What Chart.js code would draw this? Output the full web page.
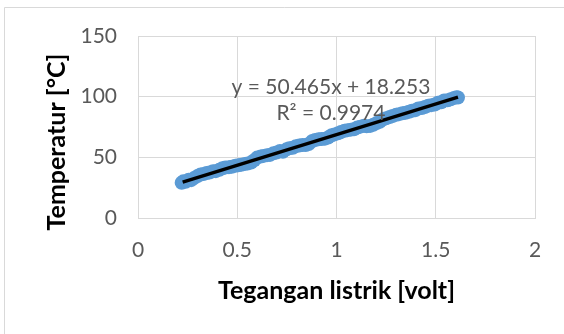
<!DOCTYPE html>
<html>
<head>
<meta charset="utf-8">
<script src="https://cdn.jsdelivr.net/npm/chart.js@4/dist/chart.umd.min.js"></script>
<style>
  html, body { margin: 0; padding: 0; background: #ffffff; }
  #wrap { width: 564px; height: 334px; }
</style>
</head>
<body>
<div id="wrap"><canvas id="c" width="564" height="334"></canvas></div>
<script>
// Measured voltage (V) and temperature (°C) readings
const voltage = [
  0.220, 0.228, 0.240, 0.255, 0.268, 0.282, 0.300, 0.315, 0.330, 0.345,
  0.360, 0.378, 0.392, 0.410, 0.425, 0.440, 0.458, 0.472, 0.490, 0.505,
  0.520, 0.538, 0.552, 0.570, 0.585, 0.600, 0.618, 0.632, 0.650, 0.665,
  0.682, 0.698, 0.715, 0.730, 0.748, 0.762, 0.780, 0.795, 0.812, 0.828,
  0.845, 0.860, 0.878, 0.892, 0.910, 0.925, 0.942, 0.958, 0.975, 0.990,
  1.008, 1.022, 1.040, 1.055, 1.072, 1.088, 1.105, 1.120, 1.138, 1.152,
  1.170, 1.185, 1.202, 1.218, 1.235, 1.250, 1.268, 1.282, 1.300, 1.315,
  1.332, 1.348, 1.365, 1.380, 1.398, 1.412, 1.430, 1.445, 1.462, 1.478,
  1.495, 1.510, 1.528, 1.542, 1.560, 1.575, 1.592, 1.605, 1.612
];
const temperature = [
  29.0, 30.2, 29.8, 31.6, 31.2, 32.9, 34.6, 35.8, 36.3, 37.0,
  37.4, 38.5, 38.6, 39.8, 41.0, 41.6, 41.9, 42.3, 43.0, 43.4,
  43.8, 44.6, 44.9, 45.8, 47.6, 49.8, 50.6, 51.2, 51.8, 52.0,
  53.4, 53.9, 55.2, 54.6, 56.6, 57.5, 57.9, 59.2, 59.8, 60.1,
  60.2, 61.0, 63.4, 64.3, 64.9, 65.1, 65.4, 66.3, 68.2, 68.9,
  69.8, 70.8, 71.9, 72.4, 72.8, 73.2, 74.6, 75.3, 76.0, 75.6,
  75.9, 76.8, 78.2, 79.3, 81.4, 82.2, 83.3, 84.1, 85.0, 85.6,
  86.3, 86.7, 87.6, 88.4, 88.9, 90.2, 90.6, 91.5, 92.6, 93.0,
  93.5, 94.9, 95.4, 96.8, 97.1, 97.8, 99.0, 99.6, 99.3
];

// Linear trendline coefficients and its label
const SLOPE = 50.465;
const INTERCEPT = 18.253;
const trendRange = [0.225, 1.612];
const trendLabel = ['y = 50.465x + 18.253', 'R\u00B2 = 0.9974'];
const trendLabelPos = { x: 0.972, y: [107.5, 86.0] };

// Axis settings
const xTicks = [0, 0.5, 1, 1.5, 2];
const yTicks = [0, 50, 100, 150];
const xTitle = 'Tegangan listrik [volt]';
const yTitle = 'Temperatur [\u00B0C]';

const points = voltage.map((v, i) => ({ x: v, y: temperature[i] }));
const trend = trendRange.map(v => ({ x: v, y: SLOPE * v + INTERCEPT }));

const GRID = '#d9d9d9';
const TEXT = '#595959';
const FONT = 'Lato, "Liberation Sans", sans-serif';

const frame = {
  id: 'frame',
  beforeDraw(chart) {
    const ctx = chart.ctx;
    ctx.save();
    ctx.fillStyle = '#ffffff';
    ctx.fillRect(0, 0, chart.width, chart.height);
    ctx.strokeStyle = GRID;
    ctx.lineWidth = 1;
    ctx.beginPath();
    ctx.moveTo(4.5, chart.height);
    ctx.lineTo(4.5, 7.5);
    ctx.lineTo(chart.width, 7.5);
    ctx.stroke();
    ctx.restore();
  }
};

// Vertical axis title, set a little below the middle of the plot area
const yAxisTitle = {
  id: 'yAxisTitle',
  afterDraw(chart) {
    const { ctx, chartArea } = chart;
    ctx.save();
    ctx.fillStyle = '#000000';
    ctx.font = 'bold 25px ' + FONT;
    ctx.textAlign = 'center';
    ctx.textBaseline = 'middle';
    ctx.translate(57, (chartArea.top + chartArea.bottom) / 2 + 15);
    ctx.rotate(-Math.PI / 2);
    ctx.fillText(yTitle, 0, 0);
    ctx.restore();
  }
};

const equation = {
  id: 'equation',
  afterDatasetsDraw(chart) {
    const { ctx, scales } = chart;
    ctx.save();
    ctx.fillStyle = TEXT;
    ctx.font = '21px ' + FONT;
    ctx.textAlign = 'center';
    ctx.textBaseline = 'middle';
    const px = scales.x.getPixelForValue(trendLabelPos.x);
    trendLabel.forEach((t, i) => {
      ctx.fillText(t, px, scales.y.getPixelForValue(trendLabelPos.y[i]));
    });
    ctx.restore();
  }
};

new Chart(document.getElementById('c'), {
  type: 'scatter',
  data: {
    datasets: [
      {
        label: 'Linear',
        data: trend,
        showLine: true,
        borderColor: '#000000',
        borderWidth: 3.5,
        pointRadius: 0,
        order: 0
      },
      {
        label: 'Data',
        data: points,
        backgroundColor: '#5b9bd5',
        borderColor: '#5b9bd5',
        borderWidth: 0,
        pointRadius: 7,
        order: 1
      }
    ]
  },
  options: {
    responsive: false,
    devicePixelRatio: 1,
    animation: false,
    layout: { padding: { left: 4, right: 29, top: 36, bottom: 0 } },
    plugins: { legend: { display: false }, tooltip: { enabled: false } },
    scales: {
      x: {
        type: 'linear',
        min: xTicks[0],
        max: xTicks[xTicks.length - 1],
        afterBuildTicks(scale) { scale.ticks = xTicks.map(v => ({ value: v })); },
        afterFit(scale) { scale.height = 116; },
        grid: { color: GRID, drawTicks: false },
        border: { color: GRID },
        ticks: {
          color: TEXT, font: { family: FONT, size: 21 }, padding: 20, maxRotation: 0,
          callback: v => String(v)
        },
        title: {
          display: true, text: xTitle, color: '#000000',
          font: { family: FONT, size: 25, weight: 'bold' },
          padding: { top: 0, bottom: 28 }
        }
      },
      y: {
        type: 'linear',
        min: yTicks[0],
        max: yTicks[yTicks.length - 1],
        afterBuildTicks(scale) { scale.ticks = yTicks.map(v => ({ value: v })); },
        afterFit(scale) { scale.width = 134; },
        grid: { color: GRID, drawTicks: false },
        border: { color: GRID },
        ticks: {
          color: TEXT, font: { family: FONT, size: 21 }, padding: 21,
          callback: v => String(v)
        },
        title: { display: false }
      }
    }
  },
  plugins: [frame, yAxisTitle, equation]
});
</script>
</body>
</html>
